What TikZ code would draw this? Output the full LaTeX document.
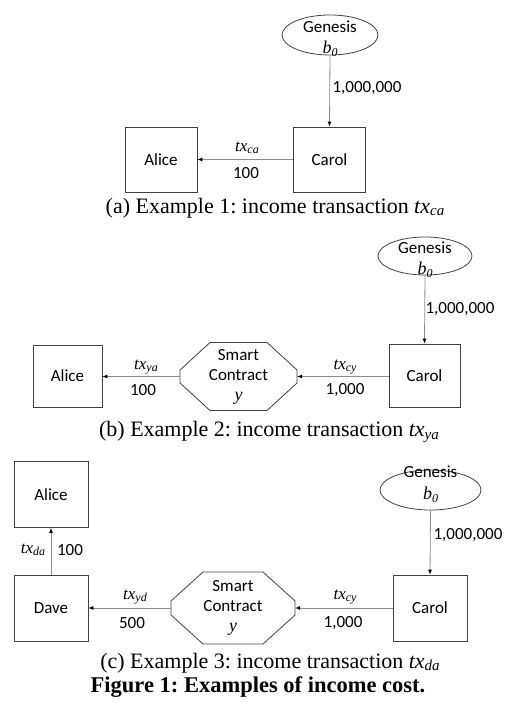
\documentclass[tikz,border=0pt]{standalone}
\usepackage{fontspec}
\setmainfont{Liberation Serif}
\newfontfamily\carfont{Carlito}
\usetikzlibrary{arrows.meta,shapes.geometric}
\frenchspacing
\newcommand{\txl}[1]{{\itshape tx\raisebox{-.3ex}{\fontsize{12}{12}\selectfont #1}}}
\newcommand{\capsub}[1]{{\itshape tx\raisebox{-.25ex}{\fontsize{15}{15}\selectfont #1}}}
\begin{document}
\begin{tikzpicture}[x=1pt,y=-1pt,
  box/.style={draw=black!75,line width=0.8pt,minimum width=72pt,minimum height=65pt,inner sep=0pt,font=\carfont\fontsize{17}{20}\selectfont},
  gen/.style={draw=black!75,line width=0.8pt,ellipse,inner sep=0pt},
  gtext/.style={font=\carfont\fontsize{17}{20}\selectfont,inner sep=0pt},
  btext/.style={font=\fontsize{18}{20}\selectfont\itshape,inner sep=0pt},
  sc/.style={rectangle,inner sep=0pt,outer sep=0pt,align=center,font=\carfont\fontsize{17}{20}\selectfont},
  octo/.style={draw=black!75,line width=0.8pt,line join=miter},
  lab/.style={font=\fontsize{17}{20}\selectfont,inner sep=0pt},
  num/.style={font=\carfont\fontsize{17}{20}\selectfont,inner sep=0pt},
  captext/.style={font=\fontsize{22}{24}\selectfont,inner sep=0pt},
  arr/.style={draw=black!45,line width=0.8pt,-{Latex[length=5pt,width=4pt,black]}}
]
\useasboundingbox (0,0) rectangle (521,708);
% ---------- (a)
\node[gen,minimum width=96pt,minimum height=40pt] (ga) at (330,35) {};
\node[gtext] (gat) at (330,27) {Genesis};
\node[btext] (gab) at (330,49) {b\raisebox{-.3ex}{\fontsize{12}{12}\selectfont 0}};
\node[box] (aa) at (161,159.5) {Alice};
\node[box] (ca) at (329.5,159.5) {Carol};
\draw[arr] (ga.south) -- (ca.north);
\draw[arr] (ca.west) -- (aa.east);
\node[num] (na1) at (367,88) {1,000,000};
\node[lab] (la1) at (247,148) {\txl{ca}};
\node[num] (na2) at (246,173) {100};
\node[captext] (capa) at (275,208) {(a) Example 1: income transaction \capsub{ca}};
% ---------- (b)
\node[gen,minimum width=94pt,minimum height=38pt] (gb) at (425,256) {};
\node[gtext] (gbt) at (425,248) {Genesis};
\node[btext] (gbb) at (425,270) {b\raisebox{-.3ex}{\fontsize{12}{12}\selectfont 0}};
\node[box,minimum width=69pt,minimum height=62pt] (ab) at (67.5,376) {Alice};
\node[box,minimum width=71pt,minimum height=63pt] (cb) at (424.5,375.5) {Carol};
\node[sc,minimum width=117pt,minimum height=68pt] (sb) at (238.5,376.5) {Smart\\Contract\\{\fontfamily{\rmdefault}\fontsize{18}{20}\selectfont\itshape y}};
\draw[octo] ([xshift=30pt]sb.north west) -- ([xshift=-30pt]sb.north east)
  -- ([yshift=6.5pt]sb.east) -- ([yshift=-6.5pt]sb.east)
  -- ([xshift=-30pt]sb.south east) -- ([xshift=30pt]sb.south west)
  -- ([yshift=-6.5pt]sb.west) -- ([yshift=6.5pt]sb.west) -- cycle;
\draw[arr] (gb.south) -- (cb.north);
\draw[arr] (cb.west |- sb.east) -- (sb.east);
\draw[arr] (sb.west) -- (ab.east |- sb.west);
\node[num] (nb1) at (460,309) {1,000,000};
\node[lab] (lb1) at (146,367) {\txl{ya}};
\node[num] (nb2) at (143,390) {100};
\node[lab] (lb3) at (345,367) {\txl{cy}};
\node[num] (nb4) at (345,390) {1,000};
\node[captext] (capb) at (269,432) {(b) Example 2: income transaction \capsub{ya}};
% ---------- (c)
\node[gen,minimum width=101pt,minimum height=40pt] (gc) at (430.5,490) {};
\node[gtext] (gct) at (430.5,472) {Genesis};
\node[btext] (gcb) at (430.5,495) {b\raisebox{-.3ex}{\fontsize{12}{12}\selectfont 0}};
\node[box,minimum width=74pt,minimum height=66pt] (ac) at (51,494.5) {Alice};
\node[box,minimum width=74pt,minimum height=66pt] (dc) at (51,608) {Dave};
\node[box,minimum width=74pt,minimum height=66pt] (cc) at (430,608) {Carol};
\node[sc,minimum width=124pt,minimum height=72pt] (sc) at (233,608) {Smart\\Contract\\{\fontfamily{\rmdefault}\fontsize{18}{20}\selectfont\itshape y}};
\draw[octo] ([xshift=32pt]sc.north west) -- ([xshift=-32pt]sc.north east)
  -- ([yshift=7pt]sc.east) -- ([yshift=-7pt]sc.east)
  -- ([xshift=-32pt]sc.south east) -- ([xshift=32pt]sc.south west)
  -- ([yshift=-7pt]sc.west) -- ([yshift=7pt]sc.west) -- cycle;
\draw[arr] (gc.south) -- (cc.north);
\draw[arr] (cc.west) -- (sc.east);
\draw[arr] (sc.west) -- (dc.east);
\draw[arr] (dc.north) -- (ac.south);
\node[num] (nc1) at (468,535) {1,000,000};
\node[lab] (lc1) at (135,597) {\txl{yd}};
\node[num] (nc2) at (132,623) {500};
\node[lab] (lc3) at (345,597) {\txl{cy}};
\node[num] (nc4) at (343,623) {1,000};
\node[lab] (lc5) at (33,550) {\txl{da}};
\node[num] (nc6) at (70,550) {100};
\node[captext] (capc) at (270,663) {(c) Example 3: income transaction \capsub{da}};
\node[captext,font=\fontsize{22.5}{24}\selectfont\bfseries] (fig) at (258,687) {Figure 1: Examples of income cost.};
\end{tikzpicture}
\end{document}
